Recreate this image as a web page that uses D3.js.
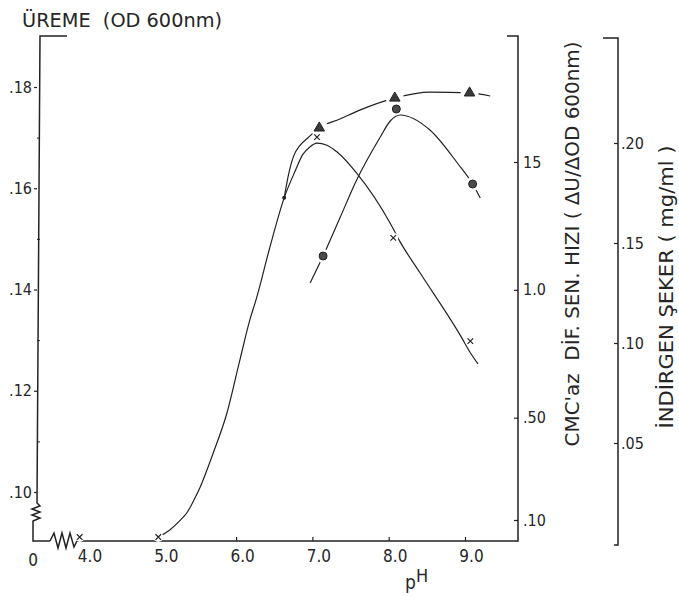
<!DOCTYPE html>
<html>
<head>
<meta charset="utf-8">
<script src="https://cdn.jsdelivr.net/npm/d3@7"></script>
<style>
  body { margin: 0; background: #fff; }
  svg text { font-family: "DejaVu Sans Condensed", "DejaVu Sans", sans-serif; fill: #262626; white-space: pre; }
</style>
</head>
<body>
<div id="chart"></div>
<script>
// growth (ÜREME, OD 600nm) - marked points
const growthPH = [3.95, 4.98, 7.06, 8.06, 9.07];
const growthOD = [0.0911, 0.0911, 0.1701, 0.1502, 0.1298];
// growth - drawn curve
const growthLinePH = [4.98, 5.13, 5.26, 5.36, 5.46, 5.53, 5.70, 5.88, 6.05, 6.18, 6.26, 6.44, 6.63, 6.78, 6.87, 6.97, 7.06, 7.19, 7.32, 7.58, 8.02, 8.15, 8.41, 8.96, 9.07, 9.17];
const growthLineOD = [0.0911, 0.0925, 0.0943, 0.0960, 0.0988, 0.1010, 0.1077, 0.1156, 0.1261, 0.1340, 0.1379, 0.1482, 0.1581, 0.1636, 0.1666, 0.1682, 0.1689, 0.1685, 0.1672, 0.1630, 0.1531, 0.1494, 0.1433, 0.1304, 0.1275, 0.1253];

// CMC'az activity (triangles)
const enzymePH = [7.09, 8.08, 9.06];
const enzymeAct = [1.633, 1.750, 1.770];
const enzymeLinePH = [6.63, 6.68, 6.75, 6.84, 6.94, 7.09, 7.36, 7.62, 8.08, 8.54, 9.06, 9.33];
const enzymeLineAct = [1.359, 1.441, 1.520, 1.566, 1.594, 1.633, 1.668, 1.703, 1.750, 1.773, 1.770, 1.758];

// reducing sugar (circles)
const sugarPH = [7.14, 8.10, 9.10];
const sugarMgMl = [0.1435, 0.2170, 0.1795];
const sugarLinePH = [6.97, 7.14, 7.36, 7.58, 7.89, 8.02, 8.15, 8.54, 8.90, 9.10, 9.20];
const sugarLineMgMl = [0.130, 0.1435, 0.1625, 0.1815, 0.2030, 0.2110, 0.2140, 0.2065, 0.1900, 0.1795, 0.1725];

// shared starting point
const startPH = [6.63];
const startOD = [0.1581];

// ticks
const xTicks = [4, 5, 6, 7, 8, 9];
const xTickMarks = [6, 7, 8, 9];
const growthTicks = [0.10, 0.12, 0.14, 0.16, 0.18];
const growthMinor = [0.11, 0.13, 0.15, 0.17];
const enzymeTicks = [0.10, 0.50, 1.0, 1.5];
const enzymeLabels = [".10", ".50", "1.0", "15"];
const sugarTicks = [0.05, 0.10, 0.15, 0.20];

const W = 679, H = 596;
const ink = "#222";

const svg = d3.select("#chart").append("svg")
  .attr("width", W).attr("height", H);

const x = d3.scaleLinear().domain([4, 9]).range([83.5, 465]);
const yGrowth = d3.scaleLinear().domain([0.10, 0.18]).range([492, 87]);
const yEnzyme = d3.scaleLinear().domain([0.10, 1.5]).range([520, 162]);
const ySugar = d3.scaleLinear().domain([0, 0.20]).range([543, 143]);

const baseY = 541, leftX = 37, r1X = 518, r2X = 618;

// ---- axis frame ----
const frame = svg.append("g").attr("fill", "none").attr("stroke", ink).attr("stroke-width", 1.5);
frame.append("path").attr("d", `M${leftX + 30},36 H${leftX + 3} L${leftX},503 L${leftX + 3},506 L${leftX - 5},509 L${leftX + 3},512 L${leftX - 5},515 L${leftX + 3},518 L33,521 V${baseY} H50`);
frame.append("path").attr("d", `M50,${baseY} L54,533 L58,548 L62,533 L66,548 L70,533 L74,547 L77,${baseY} H${r1X} V36 H${r1X - 11}`);
frame.append("path").attr("d", `M${r2X - 15},38 H${r2X} V545 H${r2X - 4}`);

const fmt2 = d => d3.format(".2f")(d).replace(/^0/, "");

// left axis
svg.append("g").attr("transform", `translate(${leftX},0)`)
  .call(d3.axisLeft(yGrowth).tickValues(growthTicks).tickFormat(fmt2).tickSizeInner(3).tickPadding(2))
  .call(g => g.select(".domain").remove())
  .call(g => g.selectAll("line").attr("stroke", ink).attr("stroke-width", 1.2))
  .call(g => g.selectAll("text").attr("font-size", 16).attr("fill", "#262626"));
svg.append("g").attr("transform", `translate(${leftX},0)`)
  .call(d3.axisLeft(yGrowth).tickValues(growthMinor).tickFormat("").tickSizeInner(-3))
  .call(g => g.select(".domain").remove())
  .call(g => g.selectAll("line").attr("stroke", ink).attr("stroke-width", 1));

// right axis 1 (CMC'az)
svg.append("g").attr("transform", `translate(${r1X},0)`)
  .call(d3.axisRight(yEnzyme).tickValues(enzymeTicks)
    .tickFormat((d, i) => enzymeLabels[i]).tickSizeInner(-4).tickPadding(5))
  .call(g => g.select(".domain").remove())
  .call(g => g.selectAll("line").attr("stroke", ink).attr("stroke-width", 1.2))
  .call(g => g.selectAll("text").attr("font-size", 16).attr("fill", "#262626"));

// right axis 2 (reducing sugar)
svg.append("g").attr("transform", `translate(${r2X},0)`)
  .call(d3.axisRight(ySugar).tickValues(sugarTicks).tickFormat(fmt2).tickSizeInner(-4).tickPadding(3))
  .call(g => g.select(".domain").remove())
  .call(g => g.selectAll("line").attr("stroke", ink).attr("stroke-width", 1.2))
  .call(g => g.selectAll("text").attr("font-size", 16).attr("fill", "#262626"));

// x axis
svg.append("g").attr("transform", `translate(0,${baseY})`)
  .call(d3.axisBottom(x).tickValues(xTicks).tickFormat(d3.format(".1f")).tickSizeInner(-4).tickPadding(9))
  .call(g => g.select(".domain").remove())
  .call(g => g.selectAll(".tick line").attr("stroke", ink).attr("stroke-width", 1.2)
    .attr("display", d => xTickMarks.includes(d) ? null : "none"))
  .call(g => g.selectAll("text").attr("font-size", 17).attr("dx", 6).attr("fill", "#262626"));
svg.append("text").attr("x", 33).attr("y", 566).attr("text-anchor", "middle")
  .attr("font-size", 17).text("0");

// titles
svg.append("text").attr("x", 22).attr("y", 27).attr("font-size", 19)
  .attr("textLength", 200).attr("lengthAdjust", "spacingAndGlyphs").text("ÜREME  (OD 600nm)");
svg.append("text").attr("transform", "translate(579,244) rotate(-90)")
  .attr("text-anchor", "middle").attr("font-size", 20)
  .attr("textLength", 405).attr("lengthAdjust", "spacingAndGlyphs")
  .text("CMC'az  DİF. SEN. HIZI ( ΔU/ΔOD 600nm)");
svg.append("text").attr("transform", "translate(673,287) rotate(-90)")
  .attr("text-anchor", "middle").attr("font-size", 20)
  .attr("textLength", 283).attr("lengthAdjust", "spacingAndGlyphs")
  .text("İNDİRGEN ŞEKER ( mg/ml )");
svg.append("text").attr("x", 405).attr("y", 589).attr("font-size", 19).text("p");
svg.append("text").attr("x", 416).attr("y", 582).attr("font-size", 18).text("H");

// ---- curves ----
const curves = [
  { px: growthLinePH, v: growthLineOD, y: yGrowth },
  { px: enzymeLinePH, v: enzymeLineAct, y: yEnzyme },
  { px: sugarLinePH, v: sugarLineMgMl, y: ySugar }
];
curves.forEach(c => {
  const line = d3.line().curve(d3.curveMonotoneX)
    .x((d, i) => x(c.px[i])).y((d, i) => c.y(c.v[i]));
  svg.append("path").datum(c.px).attr("d", line)
    .attr("fill", "none").attr("stroke", ink).attr("stroke-width", 1.2);
});

// white gaps around markers
const halos = [];
growthPH.forEach((p, i) => halos.push([x(p), yGrowth(growthOD[i]), i === 2 ? 3 : 5]));
enzymePH.forEach((p, i) => halos.push([x(p), yEnzyme(enzymeAct[i]), 9]));
sugarPH.forEach((p, i) => halos.push([x(p), ySugar(sugarMgMl[i]), i === 1 ? 5 : 7]));
svg.append("g").selectAll("circle").data(halos).join("circle")
  .attr("cx", d => d[0]).attr("cy", d => d[1]).attr("r", d => d[2]).attr("fill", "#fff");

// x markers
svg.append("g").selectAll("path").data(growthPH).join("path")
  .attr("transform", (d, i) => `translate(${x(d)},${yGrowth(growthOD[i])})`)
  .attr("d", d3.symbol(d3.symbolX, 22))
  .attr("fill", "none").attr("stroke", ink).attr("stroke-width", 1.2);

// triangles
svg.append("g").selectAll("path").data(enzymePH).join("path")
  .attr("transform", (d, i) => `translate(${x(d)},${yEnzyme(enzymeAct[i])})`)
  .attr("d", d3.symbol(d3.symbolTriangle, 48))
  .attr("fill", "#3a3a3a").attr("stroke", "#222").attr("stroke-width", 1);

// circles
svg.append("g").selectAll("circle").data(sugarPH).join("circle")
  .attr("cx", d => x(d)).attr("cy", (d, i) => ySugar(sugarMgMl[i]))
  .attr("r", 4).attr("fill", "#4a4a4a").attr("stroke", "#222").attr("stroke-width", 1);

// start dot
svg.append("g").selectAll("circle").data(startPH).join("circle")
  .attr("cx", d => x(d)).attr("cy", (d, i) => yGrowth(startOD[i]))
  .attr("r", 2).attr("fill", ink);
</script>
</body>
</html>
